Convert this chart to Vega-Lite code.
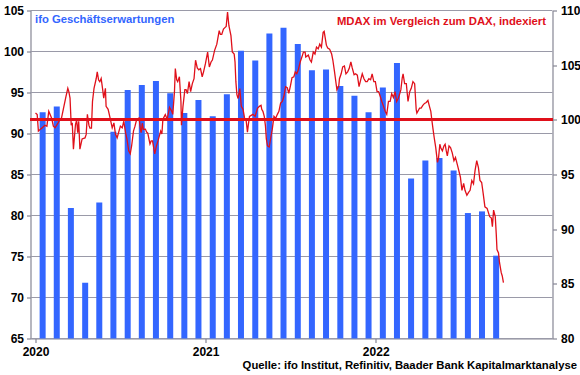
{
  "$schema": "https://vega.github.io/schema/vega-lite/v6.json",
  "width": 522,
  "height": 328,
  "autosize": {"type": "none"},
  "padding": {"left": 30.5, "top": 10.5, "right": 27.5, "bottom": 36.5},
  "config": {
    "view": {"stroke": null},
    "font": "Liberation Sans",
    "axis": {
      "labelFont": "Liberation Sans",
      "labelFontWeight": "bold",
      "labelFontSize": 12,
      "labelColor": "#000000",
      "titleFont": "Liberation Sans",
      "titleFontSize": 11.3,
      "titleFontWeight": "bold"
    }
  },
  "datasets": {
    "grid": [{"g": 65}, {"g": 70}, {"g": 75}, {"g": 80}, {"g": 85}, {"g": 90}, {"g": 95}, {"g": 100}, {"g": 105}],
    "ifo": [
      {"t": 2020.042, "ifo": 92.6}, {"t": 2020.125, "ifo": 93.3}, {"t": 2020.208, "ifo": 80.9}, {"t": 2020.292, "ifo": 71.8},
      {"t": 2020.375, "ifo": 81.6}, {"t": 2020.458, "ifo": 90.2}, {"t": 2020.542, "ifo": 95.3}, {"t": 2020.625, "ifo": 95.9},
      {"t": 2020.708, "ifo": 96.4}, {"t": 2020.792, "ifo": 94.9}, {"t": 2020.875, "ifo": 92.5}, {"t": 2020.958, "ifo": 94.1},
      {"t": 2021.042, "ifo": 92.1}, {"t": 2021.125, "ifo": 94.8}, {"t": 2021.208, "ifo": 100.1}, {"t": 2021.292, "ifo": 98.9},
      {"t": 2021.375, "ifo": 102.2}, {"t": 2021.458, "ifo": 102.9}, {"t": 2021.542, "ifo": 100.9}, {"t": 2021.625, "ifo": 97.7},
      {"t": 2021.708, "ifo": 97.8}, {"t": 2021.792, "ifo": 95.8}, {"t": 2021.875, "ifo": 94.6}, {"t": 2021.958, "ifo": 92.6},
      {"t": 2022.042, "ifo": 95.6}, {"t": 2022.125, "ifo": 98.6}, {"t": 2022.208, "ifo": 84.5}, {"t": 2022.292, "ifo": 86.7},
      {"t": 2022.375, "ifo": 87.0}, {"t": 2022.458, "ifo": 85.5}, {"t": 2022.542, "ifo": 80.3}, {"t": 2022.625, "ifo": 80.5},
      {"t": 2022.708, "ifo": 75.1}
    ],
    "mdax": [
      {"t": 2020.000, "v": 100.62}, {"t": 2020.010, "v": 100.48}, {"t": 2020.017, "v": 98.97}, {"t": 2020.029, "v": 99.15},
      {"t": 2020.037, "v": 99.24}, {"t": 2020.055, "v": 99.51}, {"t": 2020.067, "v": 99.42}, {"t": 2020.078, "v": 100.78},
      {"t": 2020.095, "v": 100.14}, {"t": 2020.105, "v": 99.42}, {"t": 2020.115, "v": 99.27}, {"t": 2020.133, "v": 99.72},
      {"t": 2020.144, "v": 100.03}, {"t": 2020.153, "v": 100.17}, {"t": 2020.164, "v": 101.00}, {"t": 2020.179, "v": 102.13},
      {"t": 2020.190, "v": 102.88}, {"t": 2020.196, "v": 102.58}, {"t": 2020.203, "v": 101.98}, {"t": 2020.210, "v": 99.51},
      {"t": 2020.216, "v": 99.72}, {"t": 2020.223, "v": 97.32}, {"t": 2020.235, "v": 99.57}, {"t": 2020.242, "v": 99.96},
      {"t": 2020.248, "v": 98.82}, {"t": 2020.254, "v": 99.87}, {"t": 2020.261, "v": 97.32}, {"t": 2020.274, "v": 98.25},
      {"t": 2020.291, "v": 98.34}, {"t": 2020.298, "v": 98.67}, {"t": 2020.305, "v": 100.50}, {"t": 2020.314, "v": 99.51},
      {"t": 2020.320, "v": 99.24}, {"t": 2020.329, "v": 99.24}, {"t": 2020.335, "v": 101.68}, {"t": 2020.344, "v": 102.88},
      {"t": 2020.357, "v": 103.78}, {"t": 2020.363, "v": 104.39}, {"t": 2020.371, "v": 103.64}, {"t": 2020.378, "v": 103.49},
      {"t": 2020.386, "v": 103.78}, {"t": 2020.395, "v": 102.76}, {"t": 2020.401, "v": 101.98}, {"t": 2020.411, "v": 102.88},
      {"t": 2020.415, "v": 101.23}, {"t": 2020.427, "v": 100.96}, {"t": 2020.439, "v": 100.14}, {"t": 2020.451, "v": 99.27},
      {"t": 2020.461, "v": 99.72}, {"t": 2020.470, "v": 98.70}, {"t": 2020.480, "v": 98.36}, {"t": 2020.499, "v": 99.42},
      {"t": 2020.510, "v": 99.27}, {"t": 2020.519, "v": 99.87}, {"t": 2020.530, "v": 98.79}, {"t": 2020.538, "v": 98.22},
      {"t": 2020.548, "v": 97.16}, {"t": 2020.557, "v": 96.89}, {"t": 2020.565, "v": 97.61}, {"t": 2020.576, "v": 98.97},
      {"t": 2020.585, "v": 99.42}, {"t": 2020.595, "v": 100.05}, {"t": 2020.609, "v": 100.17}, {"t": 2020.616, "v": 99.24},
      {"t": 2020.621, "v": 98.82}, {"t": 2020.628, "v": 99.69}, {"t": 2020.634, "v": 99.12}, {"t": 2020.646, "v": 99.15},
      {"t": 2020.653, "v": 98.88}, {"t": 2020.660, "v": 98.79}, {"t": 2020.673, "v": 97.80}, {"t": 2020.680, "v": 98.07},
      {"t": 2020.688, "v": 98.07}, {"t": 2020.701, "v": 96.89}, {"t": 2020.711, "v": 97.61}, {"t": 2020.720, "v": 98.07},
      {"t": 2020.736, "v": 98.97}, {"t": 2020.743, "v": 98.70}, {"t": 2020.749, "v": 100.05}, {"t": 2020.763, "v": 100.48},
      {"t": 2020.774, "v": 100.05}, {"t": 2020.788, "v": 101.14}, {"t": 2020.801, "v": 100.78}, {"t": 2020.807, "v": 100.50},
      {"t": 2020.817, "v": 102.58}, {"t": 2020.822, "v": 104.69}, {"t": 2020.830, "v": 103.67}, {"t": 2020.836, "v": 103.49},
      {"t": 2020.846, "v": 103.94}, {"t": 2020.855, "v": 101.68}, {"t": 2020.858, "v": 99.51}, {"t": 2020.867, "v": 101.23},
      {"t": 2020.878, "v": 102.76}, {"t": 2020.885, "v": 102.76}, {"t": 2020.893, "v": 102.40}, {"t": 2020.903, "v": 103.49},
      {"t": 2020.912, "v": 102.58}, {"t": 2020.922, "v": 103.31}, {"t": 2020.932, "v": 103.76}, {"t": 2020.941, "v": 105.45},
      {"t": 2020.951, "v": 104.75}, {"t": 2020.960, "v": 104.57}, {"t": 2020.970, "v": 104.69}, {"t": 2020.980, "v": 103.94},
      {"t": 2020.988, "v": 104.39}, {"t": 2020.999, "v": 105.14}, {"t": 2021.012, "v": 106.20}, {"t": 2021.022, "v": 104.84},
      {"t": 2021.032, "v": 105.29}, {"t": 2021.040, "v": 105.47}, {"t": 2021.053, "v": 106.35}, {"t": 2021.066, "v": 106.92},
      {"t": 2021.080, "v": 108.16}, {"t": 2021.087, "v": 107.82}, {"t": 2021.095, "v": 107.82}, {"t": 2021.105, "v": 108.30},
      {"t": 2021.112, "v": 108.41}, {"t": 2021.121, "v": 108.54}, {"t": 2021.129, "v": 109.85}, {"t": 2021.137, "v": 108.61},
      {"t": 2021.149, "v": 107.70}, {"t": 2021.157, "v": 106.20}, {"t": 2021.168, "v": 106.02}, {"t": 2021.173, "v": 105.29},
      {"t": 2021.178, "v": 103.49}, {"t": 2021.184, "v": 102.31}, {"t": 2021.191, "v": 101.95}, {"t": 2021.201, "v": 102.85},
      {"t": 2021.210, "v": 101.23}, {"t": 2021.220, "v": 100.96}, {"t": 2021.229, "v": 100.17}, {"t": 2021.239, "v": 99.87},
      {"t": 2021.246, "v": 98.88}, {"t": 2021.251, "v": 99.51}, {"t": 2021.258, "v": 100.32}, {"t": 2021.268, "v": 100.41},
      {"t": 2021.278, "v": 100.50}, {"t": 2021.291, "v": 100.32}, {"t": 2021.305, "v": 101.05}, {"t": 2021.316, "v": 101.23},
      {"t": 2021.326, "v": 101.32}, {"t": 2021.330, "v": 100.96}, {"t": 2021.337, "v": 100.78}, {"t": 2021.345, "v": 100.32},
      {"t": 2021.352, "v": 99.42}, {"t": 2021.357, "v": 98.25}, {"t": 2021.364, "v": 97.61}, {"t": 2021.374, "v": 97.52},
      {"t": 2021.383, "v": 98.36}, {"t": 2021.392, "v": 99.15}, {"t": 2021.402, "v": 100.32}, {"t": 2021.412, "v": 100.14},
      {"t": 2021.422, "v": 100.50}, {"t": 2021.431, "v": 100.78}, {"t": 2021.441, "v": 101.53}, {"t": 2021.451, "v": 101.68},
      {"t": 2021.460, "v": 102.13}, {"t": 2021.470, "v": 103.03}, {"t": 2021.480, "v": 102.94}, {"t": 2021.489, "v": 102.43},
      {"t": 2021.499, "v": 103.12}, {"t": 2021.508, "v": 103.85}, {"t": 2021.519, "v": 103.94}, {"t": 2021.527, "v": 104.39},
      {"t": 2021.536, "v": 104.21}, {"t": 2021.545, "v": 104.57}, {"t": 2021.556, "v": 105.29}, {"t": 2021.566, "v": 105.74},
      {"t": 2021.575, "v": 106.20}, {"t": 2021.585, "v": 106.20}, {"t": 2021.589, "v": 105.74}, {"t": 2021.604, "v": 105.92},
      {"t": 2021.614, "v": 105.47}, {"t": 2021.622, "v": 105.29}, {"t": 2021.633, "v": 106.20}, {"t": 2021.643, "v": 106.02},
      {"t": 2021.652, "v": 106.65}, {"t": 2021.662, "v": 106.49}, {"t": 2021.671, "v": 106.92}, {"t": 2021.681, "v": 106.65},
      {"t": 2021.691, "v": 108.00}, {"t": 2021.697, "v": 108.09}, {"t": 2021.710, "v": 106.83}, {"t": 2021.718, "v": 106.56},
      {"t": 2021.729, "v": 106.47}, {"t": 2021.741, "v": 106.02}, {"t": 2021.748, "v": 105.47}, {"t": 2021.758, "v": 104.39},
      {"t": 2021.768, "v": 103.21}, {"t": 2021.772, "v": 102.76}, {"t": 2021.783, "v": 103.12}, {"t": 2021.787, "v": 103.76},
      {"t": 2021.797, "v": 104.21}, {"t": 2021.806, "v": 104.84}, {"t": 2021.816, "v": 104.93}, {"t": 2021.825, "v": 104.21},
      {"t": 2021.835, "v": 104.39}, {"t": 2021.844, "v": 104.69}, {"t": 2021.854, "v": 105.29}, {"t": 2021.862, "v": 104.75},
      {"t": 2021.873, "v": 104.12}, {"t": 2021.882, "v": 104.21}, {"t": 2021.892, "v": 104.09}, {"t": 2021.902, "v": 103.03},
      {"t": 2021.912, "v": 103.67}, {"t": 2021.921, "v": 104.21}, {"t": 2021.931, "v": 103.76}, {"t": 2021.941, "v": 103.49},
      {"t": 2021.950, "v": 103.49}, {"t": 2021.960, "v": 103.76}, {"t": 2021.970, "v": 103.67}, {"t": 2021.979, "v": 104.21},
      {"t": 2021.989, "v": 103.49}, {"t": 2021.998, "v": 103.49}, {"t": 2022.008, "v": 102.58}, {"t": 2022.017, "v": 102.58},
      {"t": 2022.027, "v": 102.13}, {"t": 2022.036, "v": 101.68}, {"t": 2022.046, "v": 101.23}, {"t": 2022.056, "v": 100.78},
      {"t": 2022.065, "v": 100.50}, {"t": 2022.075, "v": 101.68}, {"t": 2022.085, "v": 101.68}, {"t": 2022.094, "v": 102.40},
      {"t": 2022.104, "v": 102.04}, {"t": 2022.114, "v": 102.58}, {"t": 2022.123, "v": 101.68}, {"t": 2022.133, "v": 101.98},
      {"t": 2022.142, "v": 102.43}, {"t": 2022.148, "v": 102.76}, {"t": 2022.156, "v": 103.85}, {"t": 2022.161, "v": 104.21},
      {"t": 2022.170, "v": 103.31}, {"t": 2022.180, "v": 103.31}, {"t": 2022.190, "v": 101.68}, {"t": 2022.200, "v": 102.58},
      {"t": 2022.209, "v": 102.88}, {"t": 2022.219, "v": 103.49}, {"t": 2022.229, "v": 103.31}, {"t": 2022.238, "v": 100.96},
      {"t": 2022.242, "v": 100.62}, {"t": 2022.258, "v": 101.07}, {"t": 2022.267, "v": 101.07}, {"t": 2022.277, "v": 101.32},
      {"t": 2022.287, "v": 101.50}, {"t": 2022.297, "v": 101.59}, {"t": 2022.307, "v": 101.77}, {"t": 2022.316, "v": 101.23},
      {"t": 2022.324, "v": 100.78}, {"t": 2022.331, "v": 99.87}, {"t": 2022.337, "v": 99.15}, {"t": 2022.344, "v": 98.36},
      {"t": 2022.353, "v": 97.46}, {"t": 2022.363, "v": 96.11}, {"t": 2022.369, "v": 96.44}, {"t": 2022.377, "v": 97.77},
      {"t": 2022.383, "v": 97.43}, {"t": 2022.392, "v": 97.16}, {"t": 2022.401, "v": 97.61}, {"t": 2022.408, "v": 97.77},
      {"t": 2022.415, "v": 97.16}, {"t": 2022.421, "v": 96.71}, {"t": 2022.431, "v": 97.61}, {"t": 2022.440, "v": 97.46},
      {"t": 2022.450, "v": 96.98}, {"t": 2022.460, "v": 96.26}, {"t": 2022.469, "v": 96.56}, {"t": 2022.484, "v": 95.65},
      {"t": 2022.498, "v": 94.75}, {"t": 2022.507, "v": 93.55}, {"t": 2022.517, "v": 94.18}, {"t": 2022.525, "v": 93.55},
      {"t": 2022.536, "v": 93.10}, {"t": 2022.546, "v": 93.37}, {"t": 2022.555, "v": 93.55}, {"t": 2022.565, "v": 94.45},
      {"t": 2022.575, "v": 94.15}, {"t": 2022.584, "v": 95.36}, {"t": 2022.594, "v": 96.26}, {"t": 2022.604, "v": 95.63},
      {"t": 2022.613, "v": 94.45}, {"t": 2022.623, "v": 94.27}, {"t": 2022.632, "v": 93.25}, {"t": 2022.642, "v": 92.04},
      {"t": 2022.655, "v": 91.90}, {"t": 2022.670, "v": 91.14}, {"t": 2022.680, "v": 91.02}, {"t": 2022.686, "v": 90.23},
      {"t": 2022.693, "v": 91.74}, {"t": 2022.703, "v": 91.14}, {"t": 2022.709, "v": 89.48}, {"t": 2022.713, "v": 88.13},
      {"t": 2022.722, "v": 87.83}, {"t": 2022.728, "v": 86.93}, {"t": 2022.738, "v": 86.02}, {"t": 2022.744, "v": 85.72},
      {"t": 2022.751, "v": 85.12}
    ]
  },
  "layer": [
    {
      "layer": [
        {
          "data": {"name": "grid"},
          "mark": {"type": "rule", "color": "#9a9aa8", "strokeWidth": 1.2},
          "encoding": {"y": {"field": "g", "type": "quantitative"}}
        },
        {
          "data": {"name": "ifo"},
          "mark": {"type": "bar", "width": 6, "color": "#3366ff"},
          "encoding": {
            "x": {
              "field": "t", "type": "quantitative",
              "scale": {"domain": [2020, 2023.01], "nice": false, "zero": false},
              "axis": {
                "orient": "bottom", "domain": true, "ticks": true, "grid": false,
                "domainColor": "#868694", "domainWidth": 1.2,
                "tickColor": "#868694", "tickWidth": 1.2, "tickSize": 4,
                "values": [2020, 2021, 2022], "format": "d",
                "labelFlush": false, "labelDx": 7, "labelPadding": 4,
                "title": "Quelle: ifo Institut, Refinitiv, Baader Bank Kapitalmarktanalyse",
                "titleX": 546, "titleY": 27, "titleAlign": "right", "titleBaseline": "middle",
                "titleColor": "#000000"
              }
            },
            "y": {
              "field": "ifo", "type": "quantitative",
              "scale": {"domain": [65, 105], "nice": false, "zero": false},
              "axis": {
                "orient": "left", "domain": true, "ticks": true, "grid": false,
                "domainColor": "#868694", "domainWidth": 1.2,
                "tickColor": "#868694", "tickWidth": 1.2, "tickSize": 4,
                "values": [65, 70, 75, 80, 85, 90, 95, 100, 105], "labelPadding": 3,
                "title": "ifo Geschäftserwartungen", "titleAngle": 0,
                "titleX": 4, "titleY": 9, "titleAlign": "left", "titleBaseline": "middle",
                "titleColor": "#3366ff"
              }
            },
            "y2": {"datum": 65}
          }
        }
      ]
    },
    {
      "data": {"name": "mdax"},
      "layer": [
        {
          "mark": {"type": "rule", "color": "#e0101a", "strokeWidth": 2.5},
          "encoding": {"y": {"datum": 100, "type": "quantitative"}}
        },
        {
          "mark": {"type": "line", "color": "#e0101a", "strokeWidth": 1.3},
          "encoding": {
            "x": {
              "field": "t", "type": "quantitative",
              "axis": {
                "orient": "bottom", "domain": true, "ticks": true, "grid": false,
                "domainColor": "#868694", "domainWidth": 1.2,
                "tickColor": "#868694", "tickWidth": 1.2, "tickSize": 4,
                "values": [2020, 2021, 2022], "format": "d",
                "labelFlush": false, "labelDx": 7, "labelPadding": 4,
                "title": "Quelle: ifo Institut, Refinitiv, Baader Bank Kapitalmarktanalyse",
                "titleX": 546, "titleY": 27, "titleAlign": "right", "titleBaseline": "middle",
                "titleColor": "#000000"
              }
            },
            "y": {
              "field": "v", "type": "quantitative",
              "scale": {"domain": [80, 110], "nice": false, "zero": false},
              "axis": {
                "orient": "right", "domain": true, "ticks": true, "grid": false,
                "domainColor": "#868694", "domainWidth": 1.2,
                "tickColor": "#868694", "tickWidth": 1.2, "tickSize": 4,
                "values": [80, 85, 90, 95, 100, 105, 110], "labelPadding": 4,
                "title": "MDAX im Vergleich zum DAX, indexiert", "titleAngle": 0,
                "titleX": -7, "titleY": 11, "titleAlign": "right", "titleBaseline": "middle",
                "titleColor": "#e0101a"
              }
            }
          }
        }
      ]
    }
  ],
  "resolve": {"scale": {"y": "independent"}}
}
